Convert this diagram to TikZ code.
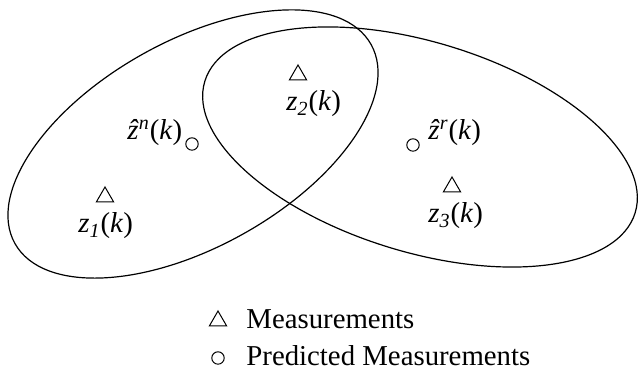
\documentclass[tikz,border=0pt]{standalone}
\usepackage{fontspec}
\setmainfont{Liberation Serif}
\usetikzlibrary{shapes.geometric,positioning}

\newcommand{\zz}[1]{\textit{z}\textsubscript{\textit{#1}}(\textit{k})}
\newcommand{\zhat}[1]{\textit{\^z}\textsuperscript{\textit{#1}}(\textit{k})}

\begin{document}
\begin{tikzpicture}[
    x=0.5pt, y=0.5pt,
    meas/.style={draw, regular polygon, regular polygon sides=3, minimum size=10pt, inner sep=0pt, line width=0.5pt},
    pred/.style={draw, circle, minimum size=6.2pt, inner sep=0pt, line width=0.5pt},
    lbl/.style={font=\fontsize{14.4}{17}\selectfont, inner sep=0pt, anchor=base west},
    gate/.style={line width=0.6pt},
]
    \useasboundingbox (0,0) rectangle (638,373);

    % Gates
    \draw [gate, rotate around={29.2:(193,229)}] (193,229) ellipse [x radius=204, y radius=103];
    \draw [gate, rotate around={-17:(420,226)}] (420,226) ellipse [x radius=225, y radius=105];

    % Measurements
    \node [meas] (m1) at (105,176) {};
    \node [meas] (m2) at (298,298) {};
    \node [meas] (m3) at (452,186) {};
    \node [lbl] (z1) at (78,140) {\zz{1}};
    \node [lbl] (z2) at (286,262) {\zz{2}};
    \node [lbl] (z3) at (428,150) {\zz{3}};

    % Predicted measurements
    \node [pred] (pn) at (192,229) {};
    \node [pred] (pr) at (413,228) {};
    \node [lbl] (zn) at (127,233) {\zhat{n}};
    \node [lbl] (zr) at (428,233) {\zhat{r}};

    % Legend
    \node [meas] (lm) at (218,52) {};
    \node [pred] (lp) at (218,15) {};
    \node [lbl, right=14pt of lm.center, anchor=base west, yshift=-4pt] (lmt) {Measurements};
    \node [lbl, right=14pt of lp.center, anchor=base west, yshift=-4pt] (lpt) {Predicted Measurements};
\end{tikzpicture}
\end{document}
